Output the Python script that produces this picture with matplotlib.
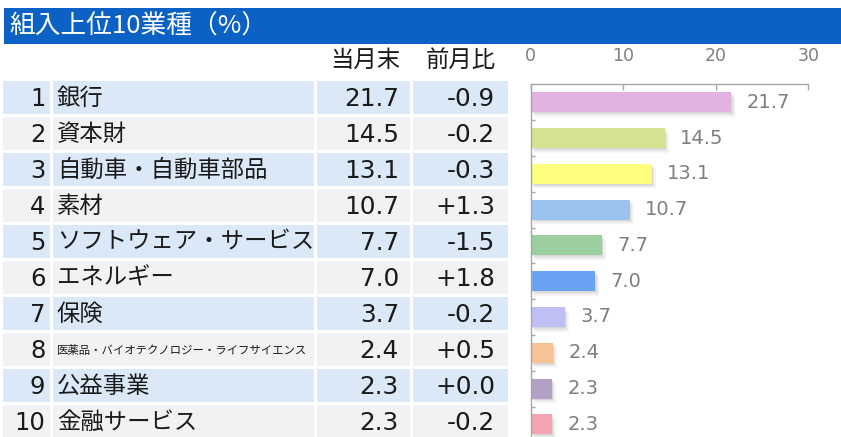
import matplotlib
matplotlib.use("Agg")
import matplotlib.pyplot as plt
from matplotlib.patches import Rectangle
import matplotlib.patheffects as pe

# ---------------- data ----------------
title = "組入上位10業種（%）"
header_value = "当月末"
header_change = "前月比"
ranks = [1, 2, 3, 4, 5, 6, 7, 8, 9, 10]
sectors = ["銀行", "資本財", "自動車・自動車部品", "素材", "ソフトウェア・サービス",
           "エネルギー", "保険", "医薬品・バイオテクノロジー・ライフサイエンス",
           "公益事業", "金融サービス"]
weights = [21.7, 14.5, 13.1, 10.7, 7.7, 7.0, 3.7, 2.4, 2.3, 2.3]
changes = [-0.9, -0.2, -0.3, 1.3, -1.5, 1.8, -0.2, 0.5, 0.0, -0.2]
bar_colors = ["#E2B3E0", "#D6E28F", "#FFFF7F", "#9AC4EE", "#9CCF9F",
              "#6AA2F3", "#BFBFF4", "#F6C494", "#B3A0C7", "#F4A4B0"]
xticks = [0, 10, 20, 30]

# ---------------- layout ----------------
W, H = 841, 437
DPI = 100
fig = plt.figure(figsize=(W / DPI, H / DPI), dpi=DPI)
fig.patch.set_facecolor("white")

JP = "Noto Sans CJK JP"
NUM = "DejaVu Sans"

# background axes in pixel coordinates
bg = fig.add_axes([0, 0, 1, 1])
bg.set_xlim(0, W)
bg.set_ylim(H, 0)
bg.axis("off")

# title bar
bg.add_patch(Rectangle((4, 8), W - 4, 36.3, facecolor="#0B62C4", edgecolor="none"))
bg.text(9, 26.5, title, family=JP, fontsize=18.5, color="white", ha="left", va="center")

# headers
bg.text(400, 60, header_value, family=JP, fontsize=16.8, color="#1a1a1a", ha="right", va="center")
bg.text(496, 60, header_change, family=JP, fontsize=16.8, color="#1a1a1a", ha="right", va="center")

row_top0 = 81.3
pitch = 36.0
row_h = 32.4
cols = [(3.3, 50.0), (52.7, 314.0), (317.3, 410.0), (413.3, 507.7)]
for i, (rk, name, val, chg) in enumerate(zip(ranks, sectors, weights, changes)):
    top = row_top0 + pitch * i
    fc = "#DAE8F7" if i % 2 == 0 else "#F2F2F2"
    for x0, x1 in cols:
        bg.add_patch(Rectangle((x0, top), x1 - x0, row_h, facecolor=fc, edgecolor="none"))
    cy = top + row_h / 2
    base = cy + 9.0
    bg.text(45.5, base, f"{rk}", family=NUM, fontsize=17.5, color="#1a1a1a", ha="right", va="baseline")
    fs = 16.8 if len(name) <= 12 else 8.2
    bg.text(57, cy + 0.6, name, family=JP, fontsize=fs, color="#1a1a1a", ha="left", va="center")
    bg.text(399, base, f"{val:.1f}", family=NUM, fontsize=17.8, color="#1a1a1a", ha="right", va="baseline")
    bg.text(495, base, f"{chg:+.1f}", family=NUM, fontsize=17.8, color="#1a1a1a", ha="right", va="baseline")

# ---------------- bar chart ----------------
ax_left, ax_right = 530.7, 808.3
ax_top = 84.3
band = 35.8
ax_bottom = ax_top + band * len(weights)
ax = fig.add_axes([ax_left / W, 1 - ax_bottom / H, (ax_right - ax_left) / W, (ax_bottom - ax_top) / H])
ax.set_facecolor("none")
ypos = list(range(len(weights)))
shadow = [pe.SimplePatchShadow(offset=(o * 0.9, -o * 1.1), shadow_rgbFace="black", alpha=a)
          for o, a in [(0.6, 0.035), (1.2, 0.035), (1.8, 0.03), (2.4, 0.025), (3.0, 0.02), (3.6, 0.015)]]
shadow.append(pe.Normal())
bars = ax.barh(ypos, weights, height=0.56, color=bar_colors, edgecolor="none")
for b in bars:
    b.set_path_effects(shadow)
for y, v in zip(ypos, weights):
    ax.annotate(f"{v:.1f}", xy=(v, y), xytext=(11, 0), textcoords="offset points",
                ha="left", va="center", family=NUM, fontsize=14, color="#7F7F7F")

ax.set_xlim(0, 30)
ax.set_ylim(len(weights) - 0.5, -0.5)
ax.set_xticks(xticks)
ax.set_xticklabels([str(t) for t in xticks])
ax.xaxis.tick_top()
ax.tick_params(axis="x", direction="in", length=4.5, width=1.0, color="#A6A6A6",
               labelcolor="#7F7F7F", labelsize=12.5, pad=14)
ax.set_yticks([i - 0.5 for i in range(1, len(weights))])
ax.set_yticklabels([])
ax.tick_params(axis="y", direction="in", length=3, width=1.0, color="#A6A6A6")
for s in ["right", "bottom"]:
    ax.spines[s].set_visible(False)
for s in ["top", "left"]:
    ax.spines[s].set_color("#A6A6A6")
    ax.spines[s].set_linewidth(1.0)
for lab in ax.get_xticklabels():
    lab.set_family(NUM)

fig.savefig("out.png", dpi=DPI)
